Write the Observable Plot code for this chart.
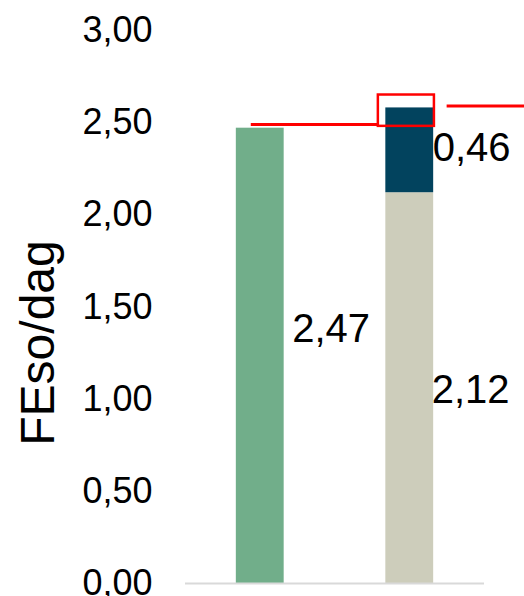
<!DOCTYPE html>
<html>
<head>
<meta charset="utf-8">
<script src="https://cdn.jsdelivr.net/npm/d3@7"></script>
<script src="https://cdn.jsdelivr.net/npm/@observablehq/plot@0.6"></script>
<style>
  html, body { margin: 0; padding: 0; background: #ffffff; }
  #chart { width: 524px; height: 596px; overflow: hidden; }
  #chart svg { overflow: visible; }
</style>
</head>
<body>
<div id="chart"></div>
<script>
// ---- data ----
const barIndex = [0, 1, 1];                 // 0 = first bar, 1 = stacked bar
const segStart = [0, 0, 2.12];
const segEnd = [2.47, 2.12, 2.58];
const segColors = ["#71ae8a", "#cdcdbb", "#02435e"];
const segLabels = ["2,47", "2,12", "0,46"];
const labelY = [1.38, 1.05, 2.36];
const labelDx = [8, -2, -1];

const yTicks = [0, 0.5, 1, 1.5, 2, 2.5, 3];
const yTickLabels = ["0,00", "0,50", "1,00", "1,50", "2,00", "2,50", "3,00"];
const yTitle = "FEso/dag";

// red annotation (reference line, highlight box, top line)
const redLineY = [2.49, 2.59];
const redLineX1 = [-0.06, 1.25];
const redLineX2 = [0.79, 1.77];
const boxX = [0.79, 1.165];
const boxY = [2.48, 2.65];

const halfBar = 0.16;

// ---- tables ----
const segs = barIndex.map((b, i) => ({
  x1: b - halfBar, x2: b + halfBar,
  y1: segStart[i], y2: segEnd[i],
  fill: segColors[i], label: segLabels[i], ly: labelY[i], dx: labelDx[i]
}));
const redLines = redLineY.map((y, i) => ({y, x1: redLineX1[i], x2: redLineX2[i]}));
const box = [{x1: boxX[0], x2: boxX[1], y1: boxY[0], y2: boxY[1]}];

const font = "'Liberation Sans', Arial, Helvetica, sans-serif";

const chart = Plot.plot({
  width: 524,
  height: 596,
  marginLeft: 185,
  marginRight: 40,
  marginTop: 30,
  marginBottom: 13,
  style: {fontFamily: font, background: "#ffffff", color: "#000000"},
  x: {domain: [-0.5, 1.5], axis: null},
  y: {domain: [0, 3]},
  marks: [
    Plot.axisY({
      ticks: yTicks,
      tickFormat: (d) => yTickLabels[yTicks.indexOf(d)],
      tickSize: 0,
      tickPadding: 33,
      fontSize: 36,
      label: null,
      fill: "#000000"
    }),
    Plot.rect(segs, {x1: "x1", x2: "x2", y1: "y1", y2: "y2", fill: "fill"}),
    Plot.ruleY([0], {stroke: "#d9d9d9", strokeWidth: 2}),
    ...segs.map((s) => Plot.text([s], {
      x: "x2", y: "ly", text: "label", textAnchor: "start",
      dx: s.dx, fontSize: 40, fill: "#000000"
    })),
    Plot.ruleY(redLines, {y: "y", x1: "x1", x2: "x2", stroke: "#ff0000", strokeWidth: 3}),
    Plot.rect(box, {x1: "x1", x2: "x2", y1: "y1", y2: "y2", fill: "none", stroke: "#ff0000", strokeWidth: 2.5}),
    Plot.text([yTitle], {
      frameAnchor: "left", textAnchor: "middle", rotate: -90, dx: -147, dy: 36,
      fontSize: 48, fill: "#000000"
    })
  ]
});
document.getElementById("chart").appendChild(chart);
</script>
</body>
</html>
